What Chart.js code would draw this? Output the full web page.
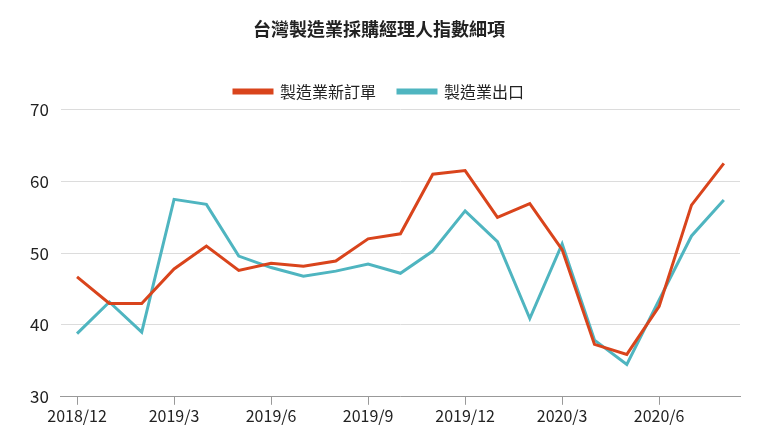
<!DOCTYPE html>
<html><head><meta charset="utf-8">
<script src="https://cdn.jsdelivr.net/npm/chart.js@4/dist/chart.umd.min.js"></script>
<style>body{margin:0;background:#fff}#wrap{width:760px;height:430px}</style>
</head><body><div id="wrap"><canvas id="c"></canvas></div>
<script>
const months = ['2018/12','2019/1','2019/2','2019/3','2019/4','2019/5','2019/6','2019/7','2019/8','2019/9','2019/10','2019/11','2019/12','2020/1','2020/2','2020/3','2020/4','2020/5','2020/6','2020/7','2020/8'];
const newOrders = [46.7,43,43,47.8,51,47.6,48.6,48.2,48.9,52,52.7,61,61.5,55,56.9,50.5,37.3,35.9,42.6,56.7,62.5];
const exportOrders = [38.8,43.2,39,57.5,56.8,49.6,48,46.8,47.5,48.5,47.2,50.3,55.9,51.6,40.9,51.3,37.9,34.5,43.5,52.4,57.4];
const yTicks = [30,40,50,60,70];
const font = "'Noto Sans CJK TC', 'Noto Sans', sans-serif";

new Chart(document.getElementById('c'), {
  type: 'line',
  data: {
    labels: months,
    datasets: [
      { label: '製造業新訂單', data: newOrders, borderColor: '#d9441c', backgroundColor: '#d9441c', borderWidth: 3, pointRadius: 0, tension: 0 },
      { label: '製造業出口', data: exportOrders, borderColor: '#4fb5c0', backgroundColor: '#4fb5c0', borderWidth: 3, pointRadius: 0, tension: 0 }
    ]
  },
  options: {
    responsive: true,
    maintainAspectRatio: false,
    animation: false,
    layout: { padding: { left: 18, right: 20, top: 18, bottom: 2 } },
    plugins: {
      title: { display: true, text: '台灣製造業採購經理人指數細項', color: '#222', font: { family: font, size: 18, weight: 'bold' }, padding: { bottom: 22 } },
      legend: {
        labels: { color: '#222', font: { family: font, size: 16 }, boxWidth: 38, boxHeight: 3, padding: 22 },
        afterFit: (l) => { l.height += 22; }
      }
    },
    scales: {
      y: {
        min: 30, max: 70,
        afterBuildTicks: (axis) => { axis.ticks = yTicks.map(v => ({ value: v })); },
        ticks: { color: '#222', font: { family: font, size: 17 }, padding: 12 },
        grid: { color: '#dcdcdc', drawTicks: false },
        border: { display: false }
      },
      x: {
        offset: true,
        ticks: { color: '#222', font: { family: font, size: 16 }, autoSkip: false, maxRotation: 0, padding: 2,
          callback: (v, i) => i % 3 === 0 ? months[i] : '' },
        grid: { display: true, drawOnChartArea: false, color: (ctx) => ctx.index % 3 === 0 ? '#999' : 'rgba(0,0,0,0)', tickLength: 8, offset: false },
        border: { color: '#999' }
      }
    }
  }
});
</script></body></html>
